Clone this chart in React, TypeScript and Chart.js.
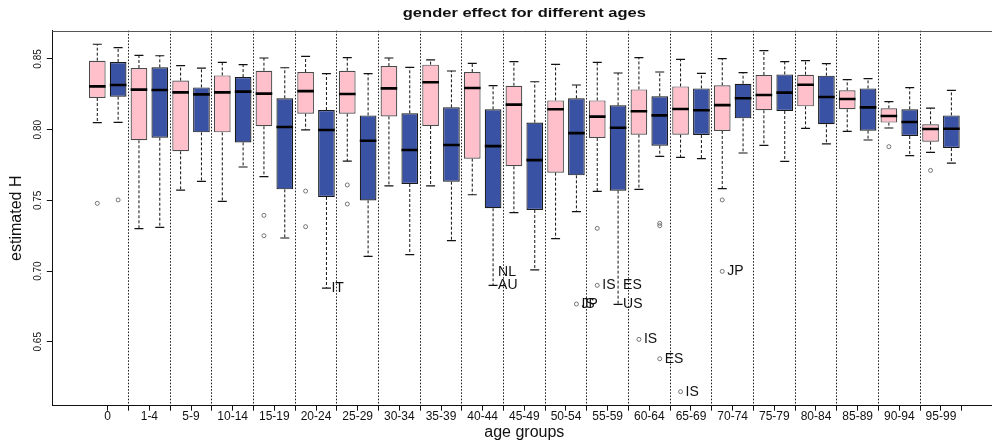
import { useEffect, useRef } from 'react';
import { Chart, registerables } from 'chart.js';

Chart.register(...registerables);

const FONT = "'Liberation Sans', Arial, Helvetica, sans-serif";
Chart.defaults.font.family = FONT;

const chartTitle = 'gender effect for different ages';
const xTitle = 'age groups';
const yTitle = 'estimated H';

const ageGroups = ['0', '1-4', '5-9', '10-14', '15-19', '20-24', '25-29', '30-34', '35-39', '40-44', '45-49', '50-54', '55-59', '60-64', '65-69', '70-74', '75-79', '80-84', '85-89', '90-94', '95-99'];

// pink boxes
const femaleLow = [0.8050, 0.7300, 0.7573, 0.7493, 0.7668, 0.7998, 0.7778, 0.7602, 0.7602, 0.7540, 0.7413, 0.7229, 0.7564, 0.7578, 0.7804, 0.7583, 0.7889, 0.8009, 0.7988, 0.8012, 0.7840];
const femaleQ1 = [0.8224, 0.7925, 0.7847, 0.7981, 0.8024, 0.8113, 0.8113, 0.8094, 0.8026, 0.7795, 0.7741, 0.7696, 0.7941, 0.7965, 0.7965, 0.7991, 0.8137, 0.8165, 0.8144, 0.8050, 0.7915];
const femaleMedian = [0.8306, 0.8283, 0.8264, 0.8264, 0.8255, 0.8273, 0.8252, 0.8292, 0.8335, 0.8295, 0.8177, 0.8144, 0.8092, 0.8130, 0.8146, 0.8174, 0.8245, 0.8318, 0.8217, 0.8097, 0.8005];
const femaleQ3 = [0.8488, 0.8436, 0.8347, 0.8384, 0.8417, 0.8408, 0.8417, 0.8450, 0.8460, 0.8408, 0.8311, 0.8207, 0.8207, 0.8285, 0.8306, 0.8314, 0.8387, 0.8389, 0.8278, 0.8151, 0.8038];
const femaleHigh = [0.8604, 0.8526, 0.8453, 0.8476, 0.8507, 0.8519, 0.8509, 0.8507, 0.8493, 0.8469, 0.8481, 0.8462, 0.8476, 0.8509, 0.8497, 0.8502, 0.8559, 0.8488, 0.8354, 0.8198, 0.8153];

// blue boxes
const maleLow = [0.8052, 0.7309, 0.7635, 0.7736, 0.7234, 0.6880, 0.7104, 0.7116, 0.7215, 0.6899, 0.7008, 0.7420, 0.6765, 0.7811, 0.7795, 0.7835, 0.7776, 0.7899, 0.7927, 0.7816, 0.7764];
const maleQ1 = [0.8233, 0.7943, 0.7981, 0.7910, 0.7578, 0.7524, 0.7500, 0.7616, 0.7632, 0.7444, 0.7432, 0.7677, 0.7569, 0.7887, 0.7962, 0.8080, 0.8132, 0.8038, 0.7993, 0.7955, 0.7870];
const maleMedian = [0.8316, 0.8281, 0.8250, 0.8269, 0.8019, 0.7998, 0.7922, 0.7856, 0.7892, 0.7884, 0.7785, 0.7976, 0.8014, 0.8101, 0.8137, 0.8222, 0.8262, 0.8231, 0.8158, 0.8054, 0.8007];
const maleQ3 = [0.8479, 0.8441, 0.8299, 0.8372, 0.8222, 0.8139, 0.8101, 0.8116, 0.8158, 0.8144, 0.8050, 0.8222, 0.8172, 0.8236, 0.8292, 0.8325, 0.8391, 0.8382, 0.8292, 0.8144, 0.8101];
const maleHigh = [0.8580, 0.8523, 0.8436, 0.8460, 0.8438, 0.8396, 0.8396, 0.8441, 0.8415, 0.8311, 0.8339, 0.8316, 0.8401, 0.8408, 0.8398, 0.8403, 0.8481, 0.8467, 0.8361, 0.8297, 0.8278];

// outliers (group index, sex, value)
const outlierGroup = [0, 0, 4, 4, 5, 5, 6, 6, 11, 12, 12, 13, 13, 13, 13, 14, 15, 15, 19, 20];
const outlierSex = ['F', 'M', 'F', 'F', 'F', 'F', 'F', 'F', 'M', 'F', 'F', 'F', 'M', 'M', 'M', 'F', 'F', 'F', 'F', 'F'];
const outlierValue = [0.7479, 0.7503, 0.7394, 0.7250, 0.7566, 0.7314, 0.7609, 0.7474, 0.6767, 0.7302, 0.6899, 0.6517, 0.7338, 0.7321, 0.6380, 0.6147, 0.7503, 0.6998, 0.7880, 0.7712];

// country labels
const labelGroup = [5, 9, 9, 11, 11, 12, 12, 12, 13, 13, 14, 15];
const labelSex = ['M', 'M', 'M', 'M', 'M', 'F', 'M', 'M', 'F', 'M', 'F', 'F'];
const labelValue = [0.6880, 0.6996, 0.6899, 0.6767, 0.6767, 0.6899, 0.6899, 0.6765, 0.6517, 0.6380, 0.6147, 0.6998];
const labelText = ['IT', 'NL', 'AU', 'IS', 'JP', 'IS', 'ES', 'US', 'IS', 'ES', 'IS', 'JP'];

const yTickValues = [0.65, 0.7, 0.75, 0.8, 0.85];
const yTickLabels = ['0.65', '0.70', '0.75', '0.80', '0.85'];

const pos = (g: number, sex: string) => 2 * g + (sex === 'F' ? 1 : 2);

const series = [
  { sex: 'F', low: femaleLow, q1: femaleQ1, med: femaleMedian, q3: femaleQ3, high: femaleHigh, fill: '#FFC0CB', stroke: '#4a4a4a' },
  { sex: 'M', low: maleLow, q1: maleQ1, med: maleMedian, q3: maleQ3, high: maleHigh, fill: '#3A52A3', stroke: '#1a1a1a' },
];

const xTickValues: number[] = [];
ageGroups.forEach((_, g) => {
  xTickValues.push(2 * g + 1.5);
  xTickValues.push(2 * g + 2.5);
});
const isSeparator = (v: number) => {
  const k = (v - 2.5) / 2;
  return Math.abs(k - Math.round(k)) < 1e-6 && k >= 0 && k < ageGroups.length - 1;
};
const xLabelFor = (v: number) => {
  const k = (v - 1.5) / 2;
  return Math.abs(k - Math.round(k)) < 1e-6 ? ageGroups[Math.round(k)] ?? '' : '';
};

function buildDatasets(): any[] {
  const boxes = series.map((s) => ({
    type: 'bar',
    data: ageGroups.map((_, g) => ({ x: pos(g, s.sex), y: [s.q1[g], s.q3[g]] })),
    backgroundColor: s.fill,
    borderColor: s.stroke,
    borderWidth: 1.2,
    borderSkipped: false,
    grouped: false,
    barPercentage: 0.8,
    categoryPercentage: 1,
    order: 3,
  }));
  const medians = {
    type: 'scatter',
    data: series.flatMap((s) => ageGroups.map((_, g) => ({ x: pos(g, s.sex), y: s.med[g] }))),
    pointStyle: 'line',
    pointRadius: 8.3,
    pointHoverRadius: 8.3,
    pointBorderWidth: 2.6,
    pointBorderColor: '#000',
    showLine: false,
    order: 0,
  };
  const caps = {
    type: 'scatter',
    data: series.flatMap((s) =>
      ageGroups.flatMap((_, g) => [
        { x: pos(g, s.sex), y: s.high[g] },
        { x: pos(g, s.sex), y: s.low[g] },
      ])
    ),
    pointStyle: 'line',
    pointRadius: 4.5,
    pointHoverRadius: 4.5,
    pointBorderWidth: 1.2,
    pointBorderColor: '#111',
    showLine: false,
    order: 1,
  };
  const whiskers = {
    type: 'line',
    data: series.flatMap((s) =>
      ageGroups.flatMap((_, g) => {
        const x = pos(g, s.sex);
        return [
          { x, y: s.q3[g] },
          { x, y: s.high[g] },
          { x, y: null },
          { x, y: s.q1[g] },
          { x, y: s.low[g] },
          { x, y: null },
        ];
      })
    ),
    borderColor: '#111',
    borderWidth: 1,
    borderDash: [3, 2],
    pointRadius: 0,
    pointHoverRadius: 0,
    spanGaps: false,
    tension: 0,
    fill: false,
    order: 4,
  };
  const outliers = {
    type: 'scatter',
    data: outlierValue.map((v, i) => ({ x: pos(outlierGroup[i], outlierSex[i]), y: v })),
    pointStyle: 'circle',
    pointRadius: 2,
    pointHoverRadius: 2,
    pointBorderWidth: 0.8,
    pointBorderColor: '#555',
    pointBackgroundColor: 'rgba(0,0,0,0)',
    showLine: false,
    order: 1,
  };
  return [...boxes, whiskers, caps, medians, outliers];
}

const decorPlugin = {
  id: 'decor',
  afterDraw(chart: any) {
    const { ctx, chartArea, scales } = chart;
    const xs = scales.x;
    const ys = scales.y;
    ctx.save();
    // top frame line
    ctx.strokeStyle = '#555';
    ctx.lineWidth = 1;
    const ty = Math.round(chartArea.top) + 0.5;
    ctx.beginPath();
    ctx.moveTo(chartArea.left, ty);
    ctx.lineTo(chartArea.right, ty);
    ctx.stroke();

    ctx.fillStyle = '#111';
    // y tick labels (rotated)
    ctx.font = `10px ${FONT}`;
    ctx.textAlign = 'center';
    ctx.textBaseline = 'alphabetic';
    yTickValues.forEach((v, i) => {
      ctx.save();
      ctx.translate(chartArea.left - 11, ys.getPixelForValue(v));
      ctx.rotate(-Math.PI / 2);
      ctx.fillText(yTickLabels[i], 0, 0);
      ctx.restore();
    });

    // y title
    ctx.font = `16px ${FONT}`;
    ctx.save();
    ctx.translate(21, (chartArea.top + chartArea.bottom) / 2);
    ctx.rotate(-Math.PI / 2);
    ctx.fillText(yTitle, 0, 0);
    ctx.restore();

    const centerX = xs.getPixelForValue((1 + 2 * ageGroups.length) / 2);
    // x title
    ctx.fillText(xTitle, centerX, 436.5);

    // main title (slightly wide)
    ctx.save();
    ctx.font = `bold 13px ${FONT}`;
    ctx.translate(centerX, 17.3);
    ctx.scale(1.27, 1);
    ctx.fillText(chartTitle, 0, 0);
    ctx.restore();

    // country labels
    ctx.font = `14px ${FONT}`;
    ctx.textAlign = 'left';
    ctx.textBaseline = 'middle';
    labelText.forEach((t, i) => {
      const px = xs.getPixelForValue(pos(labelGroup[i], labelSex[i])) + 5;
      const py = ys.getPixelForValue(labelValue[i]);
      ctx.fillText(t, px, py);
    });
    ctx.restore();
  },
};

export default function App() {
  const ref = useRef<HTMLCanvasElement>(null);
  useEffect(() => {
    const canvas = ref.current;
    if (!canvas) return;
    const chart = new Chart(canvas, {
      type: 'scatter',
      data: { datasets: buildDatasets() },
      options: {
        animation: false,
        responsive: false,
        events: [],
        layout: { autoPadding: false, padding: { top: 30.7, left: 0, right: 0, bottom: 0 } },
        plugins: {
          legend: { display: false },
          tooltip: { enabled: false },
          title: { display: false },
        },
        scales: {
          x: {
            type: 'linear',
            min: -1.16,
            max: 43.95,
            offset: false,
            bounds: 'data',
            afterBuildTicks: (scale: any) => {
              scale.ticks = xTickValues.map((v) => ({ value: v }));
            },
            afterFit: (scale: any) => {
              scale.height = 39.3;
            },
            grid: {
              offset: false,
              drawOnChartArea: true,
              drawTicks: true,
              tickLength: 5,
              tickColor: '#111',
              tickWidth: 1,
              lineWidth: 1,
              color: (c: any) => (c.tick && isSeparator(c.tick.value) ? '#222' : 'rgba(0,0,0,0)'),
            },
            border: { display: true, color: '#111', width: 1, dash: [1.6, 1.6] },
            ticks: {
              autoSkip: false,
              maxRotation: 0,
              minRotation: 0,
              padding: 0,
              color: '#111',
              font: { size: 12, lineHeight: 1 },
              callback: (v: any) => xLabelFor(Number(v)),
            },
          },
          y: {
            type: 'linear',
            min: 0.6048,
            max: 0.87,
            afterBuildTicks: (scale: any) => {
              scale.ticks = yTickValues.map((v) => ({ value: v }));
            },
            afterFit: (scale: any) => {
              scale.width = 52.3;
            },
            grid: {
              drawOnChartArea: false,
              drawTicks: true,
              tickLength: 5.5,
              color: '#111',
              tickColor: '#111',
            },
            border: { display: true, color: '#111', width: 1 },
            ticks: { display: false },
          },
        },
      } as any,
      plugins: [decorPlugin],
    } as any);
    return () => chart.destroy();
  }, []);
  return (
    <div style={{ position: 'fixed', left: 0, top: 0, width: 992, height: 445, background: '#fff' }}>
      <canvas ref={ref} width={992} height={445} style={{ display: 'block', width: 992, height: 445 }} />
    </div>
  );
}
